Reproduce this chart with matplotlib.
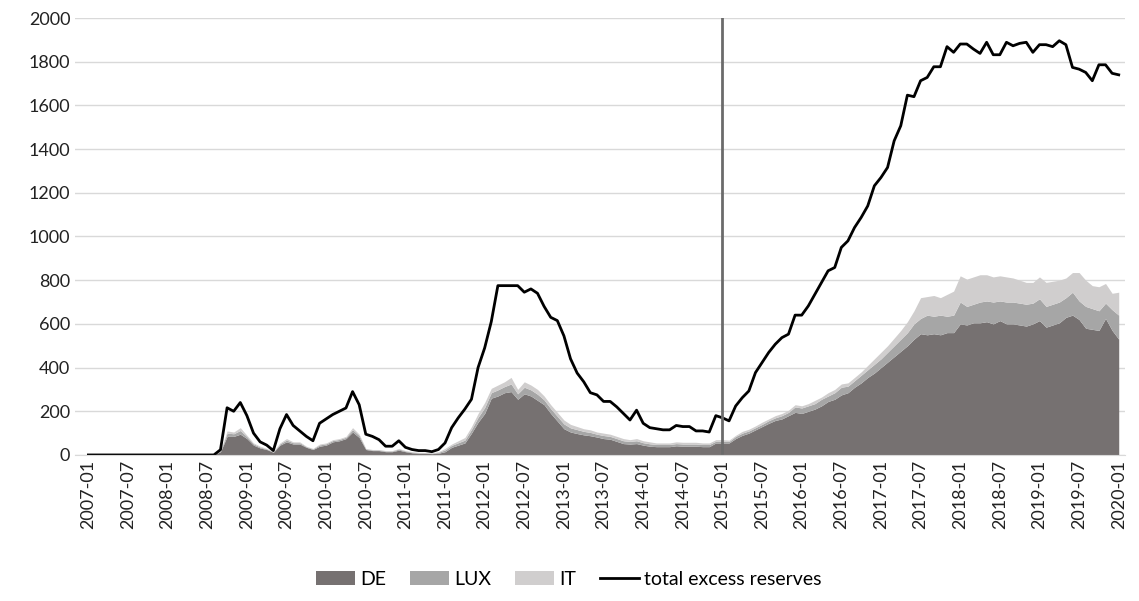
import numpy as np
import matplotlib.pyplot as plt

plt.rcParams['font.family'] = ['Lato', 'DejaVu Sans']

# monthly data from 2007-01 to 2020-01
total = ([0] * 19 + [0, 24, 216, 200, 240, 180, 100, 60, 45, 20, 120, 185, 135, 110, 85, 65,
         145, 165, 185, 200, 215, 290, 230, 95, 85, 70, 40, 40, 65, 35, 25, 20, 20, 15, 25,
         55, 125, 170, 210, 255, 400, 490, 610, 775, 775, 775, 775, 745, 760, 740, 680, 630,
         615, 545, 440, 375, 335, 285, 275, 245, 245, 220, 190, 160, 205, 145, 125, 120, 115,
         115, 135, 130, 130, 110, 110, 105, 180, 170,
         156, 224, 262, 293, 377, 423, 469, 507, 537, 553, 640, 640, 682, 736, 789, 843, 858,
         950, 980, 1041, 1087, 1140, 1232, 1270, 1316, 1438, 1507, 1647, 1640, 1713, 1728,
         1777, 1777, 1869, 1843, 1881, 1881, 1858, 1838, 1889, 1832, 1832, 1889, 1873, 1884,
         1889, 1843, 1878, 1878, 1869, 1896, 1878, 1774, 1766, 1751, 1713, 1786, 1786, 1747, 1740])

de = ([0] * 20 + [15, 85, 85, 95, 75, 45, 32, 25, 12, 45, 60, 50, 50, 35, 25, 40, 45, 60, 65,
      75, 105, 80, 25, 20, 20, 15, 15, 22, 15, 10, 8, 8, 6, 8, 15, 35, 45, 55, 100, 150, 190,
      260, 270, 285, 290, 255, 280, 270, 250, 230, 190, 155, 120, 105, 98, 92, 88, 82, 75, 72,
      62, 52, 50, 52, 45, 40, 38, 38, 38, 42, 40, 40, 40, 38, 38, 55, 55,
      55, 75, 90, 100, 115, 130, 145, 158, 165, 180, 195, 190, 200, 210, 225, 245, 255, 275,
      285, 310, 330, 355, 375, 400, 425, 450, 475, 500, 530, 555, 550, 555, 550, 560, 560, 600,
      595, 605, 605, 610, 600, 615, 600, 600, 595, 590, 600, 615, 585, 595, 605, 630, 640, 620,
      580, 575, 570, 625, 570, 530])

# top of DE + LUX
lux_top = ([0] * 20 + [18, 100, 97, 112, 84, 51, 36, 28, 14, 51, 68, 56, 56, 38, 28, 46, 51,
           66, 71, 81, 116, 89, 28, 23, 23, 18, 18, 27, 18, 13, 10, 10, 8, 12, 23, 44, 56, 68,
           117, 172, 217, 285, 298, 313, 325, 280, 310, 298, 278, 252, 212, 177, 142, 124, 116,
           108, 103, 95, 89, 85, 75, 65, 62, 65, 56, 51, 48, 48, 48, 52, 50, 50, 50, 48, 48,
           63, 63,
           62, 85, 100, 110, 125, 140, 157, 170, 180, 195, 220, 215, 225, 235, 255, 270, 285,
           310, 315, 340, 365, 390, 415, 440, 470, 500, 530, 560, 600, 625, 640, 635, 640, 635,
           640, 700, 680, 690, 700, 705, 700, 705, 700, 700, 695, 690, 695, 715, 680, 690, 700,
           720, 745, 705, 680, 670, 660, 695, 665, 640])

# top of DE + LUX + IT
all_top = ([0] * 20 + [20, 110, 105, 125, 90, 55, 40, 30, 15, 55, 75, 60, 60, 40, 30, 50, 55,
           70, 75, 85, 125, 95, 30, 25, 25, 20, 20, 30, 20, 15, 12, 12, 10, 15, 30, 50, 65, 80,
           130, 190, 240, 305, 320, 335, 355, 300, 335, 320, 300, 270, 230, 195, 160, 140, 130,
           120, 115, 105, 100, 95, 85, 75, 70, 75, 65, 60, 55, 55, 55, 60, 58, 58, 58, 55, 55,
           70, 70,
           68, 90, 108, 118, 133, 150, 165, 180, 190, 205, 230, 225, 235, 250, 265, 285, 300,
           325, 330, 355, 380, 410, 440, 470, 500, 535, 570, 610, 660, 720, 725, 730, 720, 735,
           750, 820, 805, 815, 825, 825, 815, 820, 815, 810, 800, 790, 790, 815, 790, 795, 800,
           810, 835, 835, 800, 775, 770, 785, 740, 745])

n = len(total)
x = np.arange(n)
labels = ['%d-%02d' % (2007 + i // 12, i % 12 + 1) for i in range(0, n, 6)]

fig, ax = plt.subplots(figsize=(11.39, 6.01), dpi=100)
fig.subplots_adjust(left=0.066, right=0.988, top=0.97, bottom=0.243)

ax.fill_between(x, 0, de, color='#767171', lw=0, label='DE')
ax.fill_between(x, de, lux_top, color='#a6a6a6', lw=0, label='LUX')
ax.fill_between(x, lux_top, all_top, color='#d0cece', lw=0, label='IT')
ax.plot(x, total, color='black', lw=2, label='total excess reserves')
ax.axvline(96, color='#6b6b6b', lw=2)

ax.set_xlim(-2, n)
ax.set_ylim(0, 2000)
ax.set_yticks(range(0, 2001, 200))
ax.set_xticks(range(0, n, 6))
ax.set_xticklabels(labels, rotation=90)
ax.tick_params(length=0, labelsize=13, colors='#222222')
ax.grid(axis='y', color='#d9d9d9', lw=1)
ax.set_axisbelow(True)
for s in ['top', 'right', 'left']:
    ax.spines[s].set_visible(False)
ax.spines['bottom'].set_color('#d9d9d9')

ax.legend(loc='upper center', bbox_to_anchor=(0.47, -0.225), ncol=4, frameon=False,
          fontsize=14, handlelength=2, handletextpad=0.3, columnspacing=1.2)

plt.savefig('out.png')
